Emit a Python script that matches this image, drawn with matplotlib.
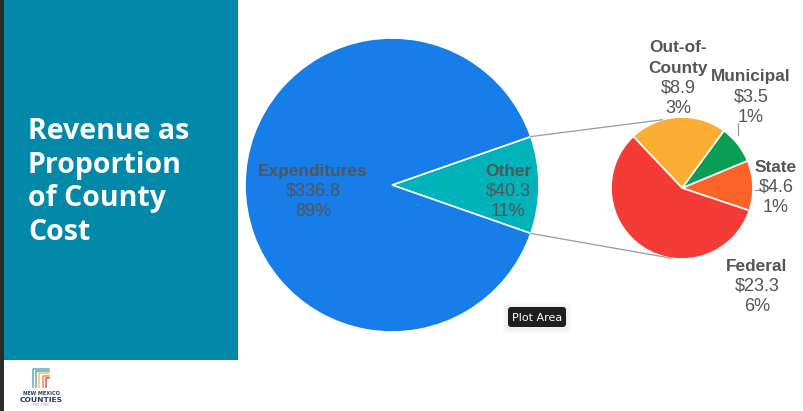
import numpy as np
import matplotlib
matplotlib.use("Agg")
import matplotlib.pyplot as plt
from matplotlib.patches import Rectangle, FancyBboxPatch

# data
main_labels = ["Other", "Expenditures"]
main_values = [40.3, 336.8]
main_pcts = ["11%", "89%"]
main_colors = ["#00b2ba", "#177de8"]

sub_labels = ["State", "Municipal", "Out-of-\nCounty", "Federal"]
sub_values = [4.6, 3.5, 8.9, 23.3]
sub_pcts = ["1%", "1%", "3%", "6%"]
sub_colors = ["#fb6329", "#0a9d54", "#fbae33", "#f43c36"]

W, H = 804, 411
fig = plt.figure(figsize=(W / 100, H / 100), dpi=100)
fig.patch.set_facecolor("white")

# background in pixel coords
bg = fig.add_axes([0, 0, 1, 1])
bg.set_xlim(0, W)
bg.set_ylim(H, 0)
bg.axis("off")
bg.add_patch(Rectangle((0, 0), 4, H, color="#2b2b2b", lw=0))
bg.add_patch(Rectangle((4, 0), 234, 360, color="#0288a8", lw=0))
for i, line in enumerate(["Revenue as", "Proportion", "of County", "Cost"]):
    bg.text(28, 139 + i * 33.5, line, color="white", fontsize=20.5, fontweight="bold",
            family="Open Sans", va="baseline", ha="left")

# little logo
for k, c in enumerate(["#5fa8c8", "#5fa8c8", "#f7c54a", "#f08a5a", "#e8524a"]):
    x0 = 33 + k * 3.2
    bg.plot([x0, x0, 49], [387, 369 + k * 2.2, 369 + k * 2.2], color=c, lw=1.1)
bg.text(41, 393, "NEW MEXICO", color="#233c63", fontsize=3.6, fontweight="bold", ha="center", va="center")
bg.text(41, 399.5, "COUNTIES", color="#233c63", fontsize=5.4, fontweight="bold", ha="center", va="center")
bg.text(41, 405, "EST. 1980", color="#5fa8c8", fontsize=2.3, ha="center", va="center")


def pie_axes(cx, cy, r):
    ax = fig.add_axes([(cx - r) / W, (H - cy - r) / H, 2 * r / W, 2 * r / H])
    return ax


# main pie
mcx, mcy, mr = 392, 185, 147
ax1 = pie_axes(mcx, mcy, mr)
other_ang = 360 * main_values[0] / sum(main_values)
w1, _ = ax1.pie(main_values, colors=main_colors, startangle=-other_ang / 2, counterclock=True,
                wedgeprops=dict(edgecolor="white", linewidth=1.2))
ax1.set_xlim(-1, 1)
ax1.set_ylim(-1, 1)

# sub pie
scx, scy, sr = 682, 188, 71
ax2 = pie_axes(scx, scy, sr)
w2, _ = ax2.pie(sub_values, colors=sub_colors, startangle=-18.5, counterclock=True,
                wedgeprops=dict(edgecolor="white", linewidth=1.2))
ax2.set_xlim(-1, 1)
ax2.set_ylim(-1, 1)

# overlay for lines and labels
ov = fig.add_axes([0, 0, 1, 1])
ov.set_xlim(0, W)
ov.set_ylim(H, 0)
ov.axis("off")
ov.patch.set_alpha(0)


def on_circle(cx, cy, r, deg):
    a = np.deg2rad(deg)
    return cx + r * np.cos(a), cy - r * np.sin(a)


p_top = on_circle(mcx, mcy, mr, w1[0].theta2)
p_bot = on_circle(mcx, mcy, mr, w1[0].theta1)
q_top = on_circle(scx, scy, sr, 106)
q_bot = on_circle(scx, scy, sr, -99)
ov.plot([p_top[0], q_top[0]], [p_top[1], q_top[1]], color="#9a9a9a", lw=0.9)
ov.plot([p_bot[0], q_bot[0]], [p_bot[1], q_bot[1]], color="#9a9a9a", lw=0.9)

# leader lines
ov.plot([738, 738], [123, 135], color="#9a9a9a", lw=0.9)
ov.plot([755, 759], [190, 190], color="#9a9a9a", lw=0.9)

lab_col = "#555555"
pitch = 20


def label(x, ytop, name, val, pct):
    lines = name.split("\n")
    y = ytop
    for ln in lines:
        ov.text(x, y, ln, color=lab_col, fontsize=12.4, fontweight="bold",
                family="Liberation Sans", ha="center", va="center")
        y += pitch
    ov.text(x, y, "$%.1f" % val, color=lab_col, fontsize=13, family="Liberation Sans",
            ha="center", va="center")
    ov.text(x, y + pitch, pct, color=lab_col, fontsize=13, family="Liberation Sans",
            ha="center", va="center")


main_pos = [(508, 171), (313, 171)]
for (x, y), n, v, p in zip(main_pos, main_labels, main_values, main_pcts):
    label(x, y, n, v, p)

sub_pos = [(776, 167), (751, 77), (678, 48), (757, 266)]
for (x, y), n, v, p in zip(sub_pos, sub_labels, sub_values, sub_pcts):
    label(x, y, n, v, p)

# tooltip
for k, a in enumerate([0.025, 0.02, 0.015]):
    ov.add_patch(FancyBboxPatch((506 - k * 2, 306 - k * 2), 62 + k * 4, 24 + k * 4,
                                boxstyle="round,pad=0,rounding_size=4", fc="black",
                                ec="none", alpha=a))
ov.add_patch(FancyBboxPatch((508, 307), 58, 20, boxstyle="round,pad=0,rounding_size=3",
                            fc="#1e1e1e", ec="none"))
ov.text(537, 317.5, "Plot Area", color="white", fontsize=8, family="DejaVu Sans",
        ha="center", va="center")

fig.savefig("out.png", dpi=100)
